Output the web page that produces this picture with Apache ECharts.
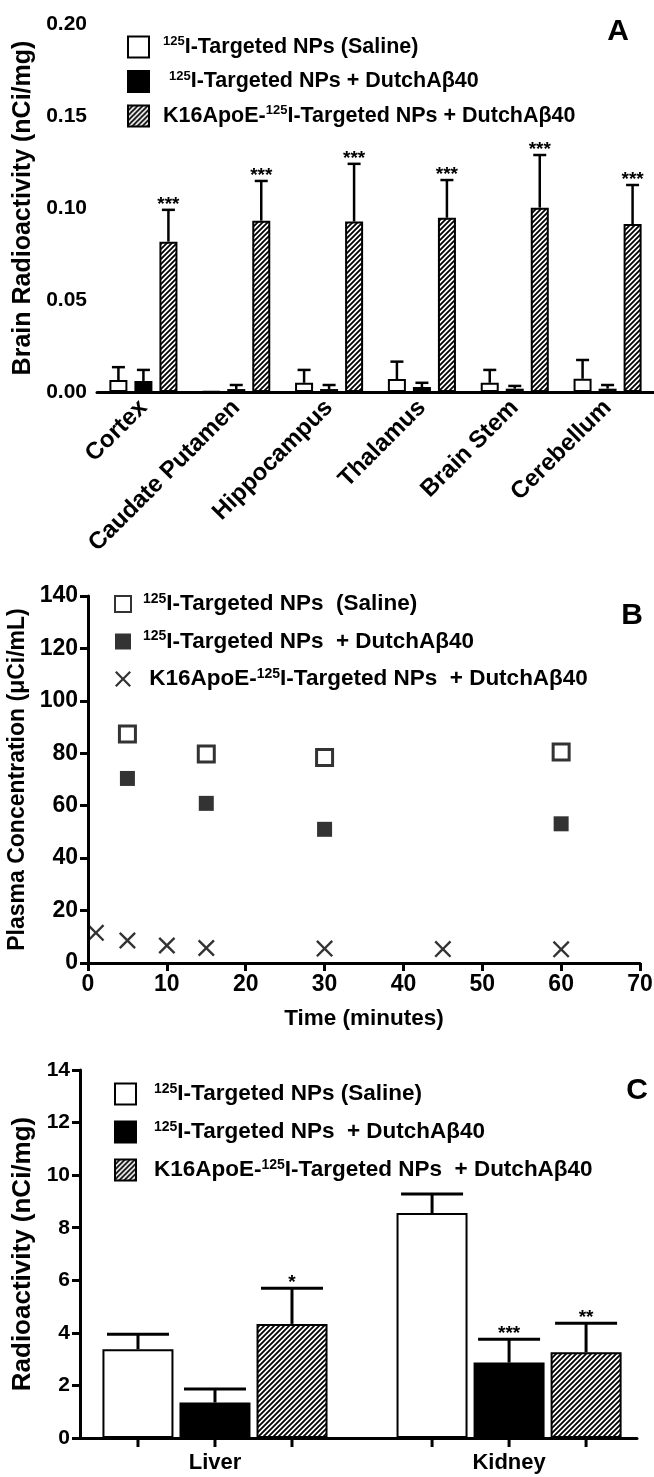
<!DOCTYPE html>
<html>
<head>
<meta charset="utf-8">
<script src="https://cdn.jsdelivr.net/npm/echarts@6.0.0/dist/echarts.min.js"></script>
<style>
  html, body { margin: 0; padding: 0; background: #fff; }
  #main { width: 654px; height: 1477px; }
</style>
</head>
<body>
<div id="main"></div>
<script>
// ---- data ----
// A: brain regions
var brainRegions = ['Cortex', 'Caudate Putamen', 'Hippocampus', 'Thalamus', 'Brain Stem', 'Cerebellum'];
var brainSaline    = [0.0065, 0.0003, 0.0050, 0.0070, 0.0050, 0.0072];
var brainSalineErr = [0.0070, 0.0000, 0.0070, 0.0095, 0.0070, 0.0102];
var brainDutch     = [0.0060, 0.0016, 0.0016, 0.0027, 0.0018, 0.0018];
var brainDutchErr  = [0.0060, 0.0022, 0.0022, 0.0023, 0.0015, 0.0020];
var brainK16       = [0.0817, 0.0931, 0.0926, 0.0947, 0.1002, 0.0913];
var brainK16Err    = [0.0173, 0.0216, 0.0314, 0.0205, 0.0286, 0.0212];
var brainK16Stars  = ['***', '***', '***', '***', '***', '***'];

// B: plasma time course
var timeSaline   = [5, 15, 30, 60];
var plasmaSaline = [87.4, 79.7, 78.4, 80.5];
var timeDutch    = [5, 15, 30, 60];
var plasmaDutch  = [70.4, 60.9, 51.0, 53.1];
var timeK16      = [1, 5, 10, 15, 30, 45, 60];
var plasmaK16    = [11.5, 8.6, 6.7, 5.7, 5.5, 5.3, 5.2];

// C: organs
var organs          = ['Liver', 'Kidney'];
var organSaline     = [3.38, 8.56];
var organSalineErr  = [0.57, 0.72];
var organDutch      = [1.35, 2.87];
var organDutchErr   = [0.51, 0.89];
var organK16        = [4.34, 3.26];
var organK16Err     = [1.36, 1.11];
var organSalineStars = ['', ''];
var organDutchStars  = ['', '***'];
var organK16Stars    = ['*', '**'];

// legend texts
var legendText = {
  a0: '{sup|125}I-Targeted NPs (Saline)',
  a1: ' {sup|125}I-Targeted NPs + DutchAβ40',
  a2: 'K16ApoE-{sup|125}I-Targeted NPs + DutchAβ40',
  b0: '{sup|125}I-Targeted NPs  (Saline)',
  b1: '{sup|125}I-Targeted NPs  + DutchAβ40',
  b2: ' K16ApoE-{sup|125}I-Targeted NPs  + DutchAβ40',
  c0: '{sup|125}I-Targeted NPs (Saline)',
  c1: '{sup|125}I-Targeted NPs  + DutchAβ40',
  c2: 'K16ApoE-{sup|125}I-Targeted NPs  + DutchAβ40'
};

var FN = "'Liberation Sans',Arial,Helvetica,sans-serif";
var FR = "'Liberation Sans',Arial,Helvetica,sans-serif";

// hatch pattern "/////"
function makeHatch() {
  var s = 5;
  var c = document.createElement('canvas');
  c.width = s; c.height = s;
  var ctx = c.getContext('2d');
  ctx.fillStyle = '#fff';
  ctx.fillRect(0, 0, s, s);
  ctx.strokeStyle = '#000';
  ctx.lineWidth = 1.8;
  ctx.beginPath();
  ctx.moveTo(0, s); ctx.lineTo(s, 0);
  ctx.moveTo(-1, 1); ctx.lineTo(1, -1);
  ctx.moveTo(s - 1, s + 1); ctx.lineTo(s + 1, s - 1);
  ctx.stroke();
  return c;
}
var hatch = { image: makeHatch(), repeat: 'repeat' };

var whiteStyle = { color: '#fff', borderColor: '#000', borderWidth: 2 };
var blackStyle = { color: '#000', borderColor: '#000', borderWidth: 2 };
var hatchStyle = { color: hatch, borderColor: '#000', borderWidth: 2 };

function pairs(xs, ys) {
  return xs.map(function (x, i) { return [x, ys[i]]; });
}
function errData(vals, errs) {
  return vals.map(function (v, i) { return [i, v, errs[i]]; });
}

// error bar (one-sided, up) + significance stars, optional tick under bar
function errorBars(offset, capW, lw, stars, tickBelow) {
  return function (params, api) {
    var x = api.value(0), v = api.value(1), e = api.value(2);
    var b = api.coord([x, v]);
    var t = api.coord([x, v + e]);
    var cx = b[0] + offset;
    var kids = [];
    if (e > 0) {
      kids.push({ type: 'line', shape: { x1: cx, y1: b[1], x2: cx, y2: t[1] }, style: { stroke: '#000', lineWidth: lw } });
      kids.push({ type: 'line', shape: { x1: cx - capW / 2, y1: t[1], x2: cx + capW / 2, y2: t[1] }, style: { stroke: '#000', lineWidth: lw } });
    }
    var st = stars ? stars[params.dataIndex] : '';
    if (st) {
      kids.push({ type: 'text', x: cx, y: t[1] + 4, style: { text: st, fill: '#000', font: 'bold 19px ' + FR, align: 'center', verticalAlign: 'bottom' } });
    }
    if (tickBelow) {
      var z = api.coord([x, 0]);
      kids.push({ type: 'line', shape: { x1: cx, y1: z[1], x2: cx, y2: z[1] + 9 }, style: { stroke: '#000', lineWidth: 3 } });
    }
    return { type: 'group', children: kids };
  };
}

var axisLine = { onZero: false, lineStyle: { color: '#000', width: 3 } };
var axisTick = { length: 8, lineStyle: { color: '#000', width: 3 } };
function lbl(size, extra) {
  var o = { color: '#000', fontWeight: 'bold', fontFamily: FN, fontSize: size, margin: 10 };
  for (var k in extra) o[k] = extra[k];
  return o;
}
var yNameStyle = function (size) {
  return { color: '#000', fontWeight: 'bold', fontFamily: FR, fontSize: size };
};
function legendCfg(names, left, top, gap, w, h, size, textGap, extra) {
  var o = {
    data: names, orient: 'vertical', left: left, top: top, itemGap: gap,
    itemWidth: w, itemHeight: h, selectedMode: false,
    formatter: function (n) { return '{g| }' + legendText[n]; },
    textStyle: {
      color: '#000', fontWeight: 'bold', fontFamily: FN, fontSize: size, lineHeight: 24,
      rich: {
        sup: { fontSize: Math.round(size * 0.62), fontWeight: 'bold', fontFamily: FN, verticalAlign: 'top', lineHeight: 24 },
        g: { width: textGap }
      }
    }
  };
  for (var k in extra) o[k] = extra[k];
  return o;
}

var chart = echarts.init(document.getElementById('main'), null, { renderer: 'canvas' });

var option = {
  animation: false,
  backgroundColor: '#fff',
  title: [
    { text: 'A', right: 20, top: 12, textStyle: { fontSize: 30, fontWeight: 'bold', fontFamily: FR, color: '#000' } },
    { text: 'B', right: 6, top: 596, textStyle: { fontSize: 30, fontWeight: 'bold', fontFamily: FR, color: '#000' } },
    { text: 'C', right: 1, top: 1071, textStyle: { fontSize: 30, fontWeight: 'bold', fontFamily: FR, color: '#000' } }
  ],
  legend: [
    legendCfg(['a0', 'a1', 'a2'], 122, 30, 10.5, 21, 21, 21.5, 9, { icon: 'rect', itemStyle: { borderColor: '#000', borderWidth: 2 } }),
    legendCfg(['b0', 'b1', 'b2'], 109, 587, 13.5, 16, 16, 22.5, 7, {}),
    legendCfg(['c0', 'c1', 'c2'], 109, 1077, 14, 21, 21, 22.5, 13, { icon: 'rect', itemStyle: { borderColor: '#000', borderWidth: 2 } })
  ],
  grid: [
    { left: 97, right: 0, top: 24, bottom: 1085, outerBoundsMode: 'none' },
    { left: 88, right: 14, top: 596, bottom: 514, outerBoundsMode: 'none' },
    { left: 80, right: 17, top: 1070, bottom: 39, outerBoundsMode: 'none' }
  ],
  xAxis: [
    {
      gridIndex: 0, type: 'category', data: brainRegions,
      axisLine: axisLine, axisTick: { length: 8, alignWithLabel: true, lineStyle: { color: '#000', width: 3 } },
      axisLabel: lbl(24, { rotate: 45, interval: 0, margin: 12 }),
      splitLine: { show: false }
    },
    {
      gridIndex: 1, type: 'value', min: 0, max: 70, interval: 10,
      axisLine: axisLine, axisTick: axisTick, axisLabel: lbl(23, {}),
      splitLine: { show: false },
      name: 'Time (minutes)', nameLocation: 'middle', nameGap: 44,
      nameTextStyle: { color: '#000', fontWeight: 'bold', fontFamily: FN, fontSize: 22.5 }
    },
    {
      gridIndex: 2, type: 'value', min: -0.459, max: 1.435,
      axisLine: axisLine, axisTick: { show: false },
      axisLabel: lbl(22, { customValues: [0, 1], margin: 14, formatter: function (v) { return organs[Math.round(v)]; } }),
      splitLine: { show: false }
    }
  ],
  yAxis: [
    {
      gridIndex: 0, type: 'value', min: 0, max: 0.2, interval: 0.05,
      axisLine: axisLine, axisTick: axisTick,
      axisLabel: lbl(21, { formatter: function (v) { return v.toFixed(2); } }),
      splitLine: { show: false },
      name: 'Brain Radioactivity (nCi/mg)', nameLocation: 'middle', nameGap: 52, nameTextStyle: yNameStyle(25)
    },
    {
      gridIndex: 1, type: 'value', min: 0, max: 140, interval: 20,
      axisLine: axisLine, axisTick: axisTick, axisLabel: lbl(23, {}),
      splitLine: { show: false },
      name: 'Plasma Concentration (μCi/mL)', nameLocation: 'middle', nameGap: 43, nameTextStyle: yNameStyle(23)
    },
    {
      gridIndex: 2, type: 'value', min: 0, max: 14, interval: 2,
      axisLine: axisLine, axisTick: axisTick, axisLabel: lbl(21, {}),
      splitLine: { show: false },
      name: 'Radioactivity (nCi/mg)', nameLocation: 'middle', nameGap: 40, nameTextStyle: yNameStyle(26)
    }
  ],
  series: [
    // ---- A ----
    { name: 'a0', type: 'bar', xAxisIndex: 0, yAxisIndex: 0, data: brainSaline, barWidth: 18, barGap: '39%', itemStyle: whiteStyle },
    { name: 'a1', type: 'bar', xAxisIndex: 0, yAxisIndex: 0, data: brainDutch, barWidth: 18, barGap: '39%', itemStyle: blackStyle },
    { name: 'a2', type: 'bar', xAxisIndex: 0, yAxisIndex: 0, data: brainK16, barWidth: 18, barGap: '39%', itemStyle: hatchStyle },
    { type: 'custom', xAxisIndex: 0, yAxisIndex: 0, z: 5, data: errData(brainSaline, brainSalineErr), renderItem: errorBars(-25, 13, 2.5, null, false) },
    { type: 'custom', xAxisIndex: 0, yAxisIndex: 0, z: 5, data: errData(brainDutch, brainDutchErr), renderItem: errorBars(0, 13, 2.5, null, false) },
    { type: 'custom', xAxisIndex: 0, yAxisIndex: 0, z: 5, data: errData(brainK16, brainK16Err), renderItem: errorBars(25, 13, 2.5, brainK16Stars, false) },
    // ---- B ----
    { name: 'b0', type: 'scatter', xAxisIndex: 1, yAxisIndex: 1, data: pairs(timeSaline, plasmaSaline), symbol: 'rect', symbolSize: 16,
      itemStyle: { color: '#fff', borderColor: '#000', borderWidth: 3 } },
    { name: 'b1', type: 'scatter', xAxisIndex: 1, yAxisIndex: 1, data: pairs(timeDutch, plasmaDutch), symbol: 'rect', symbolSize: 15,
      itemStyle: { color: '#000' } },
    { name: 'b2', type: 'scatter', xAxisIndex: 1, yAxisIndex: 1, data: pairs(timeK16, plasmaK16), symbolSize: 17,
      symbol: 'path://M0,1 L1,0 L5,4 L9,0 L10,1 L6,5 L10,9 L9,10 L5,6 L1,10 L0,9 L4,5 Z',
      itemStyle: { color: '#000' } },
    // ---- C ----
    { name: 'c0', type: 'bar', xAxisIndex: 2, yAxisIndex: 2, data: pairs([0, 1], organSaline), barWidth: 71, barGap: '8.5%', itemStyle: whiteStyle },
    { name: 'c1', type: 'bar', xAxisIndex: 2, yAxisIndex: 2, data: pairs([0, 1], organDutch), barWidth: 71, barGap: '8.5%', itemStyle: blackStyle },
    { name: 'c2', type: 'bar', xAxisIndex: 2, yAxisIndex: 2, data: pairs([0, 1], organK16), barWidth: 71, barGap: '8.5%', itemStyle: hatchStyle },
    { type: 'custom', xAxisIndex: 2, yAxisIndex: 2, z: 5, data: errData(organSaline, organSalineErr), renderItem: errorBars(-77, 62, 3, organSalineStars, true) },
    { type: 'custom', xAxisIndex: 2, yAxisIndex: 2, z: 5, data: errData(organDutch, organDutchErr), renderItem: errorBars(0, 62, 3, organDutchStars, true) },
    { type: 'custom', xAxisIndex: 2, yAxisIndex: 2, z: 5, data: errData(organK16, organK16Err), renderItem: errorBars(77, 62, 3, organK16Stars, true) }
  ]
};

chart.setOption(option);
</script>
</body>
</html>
